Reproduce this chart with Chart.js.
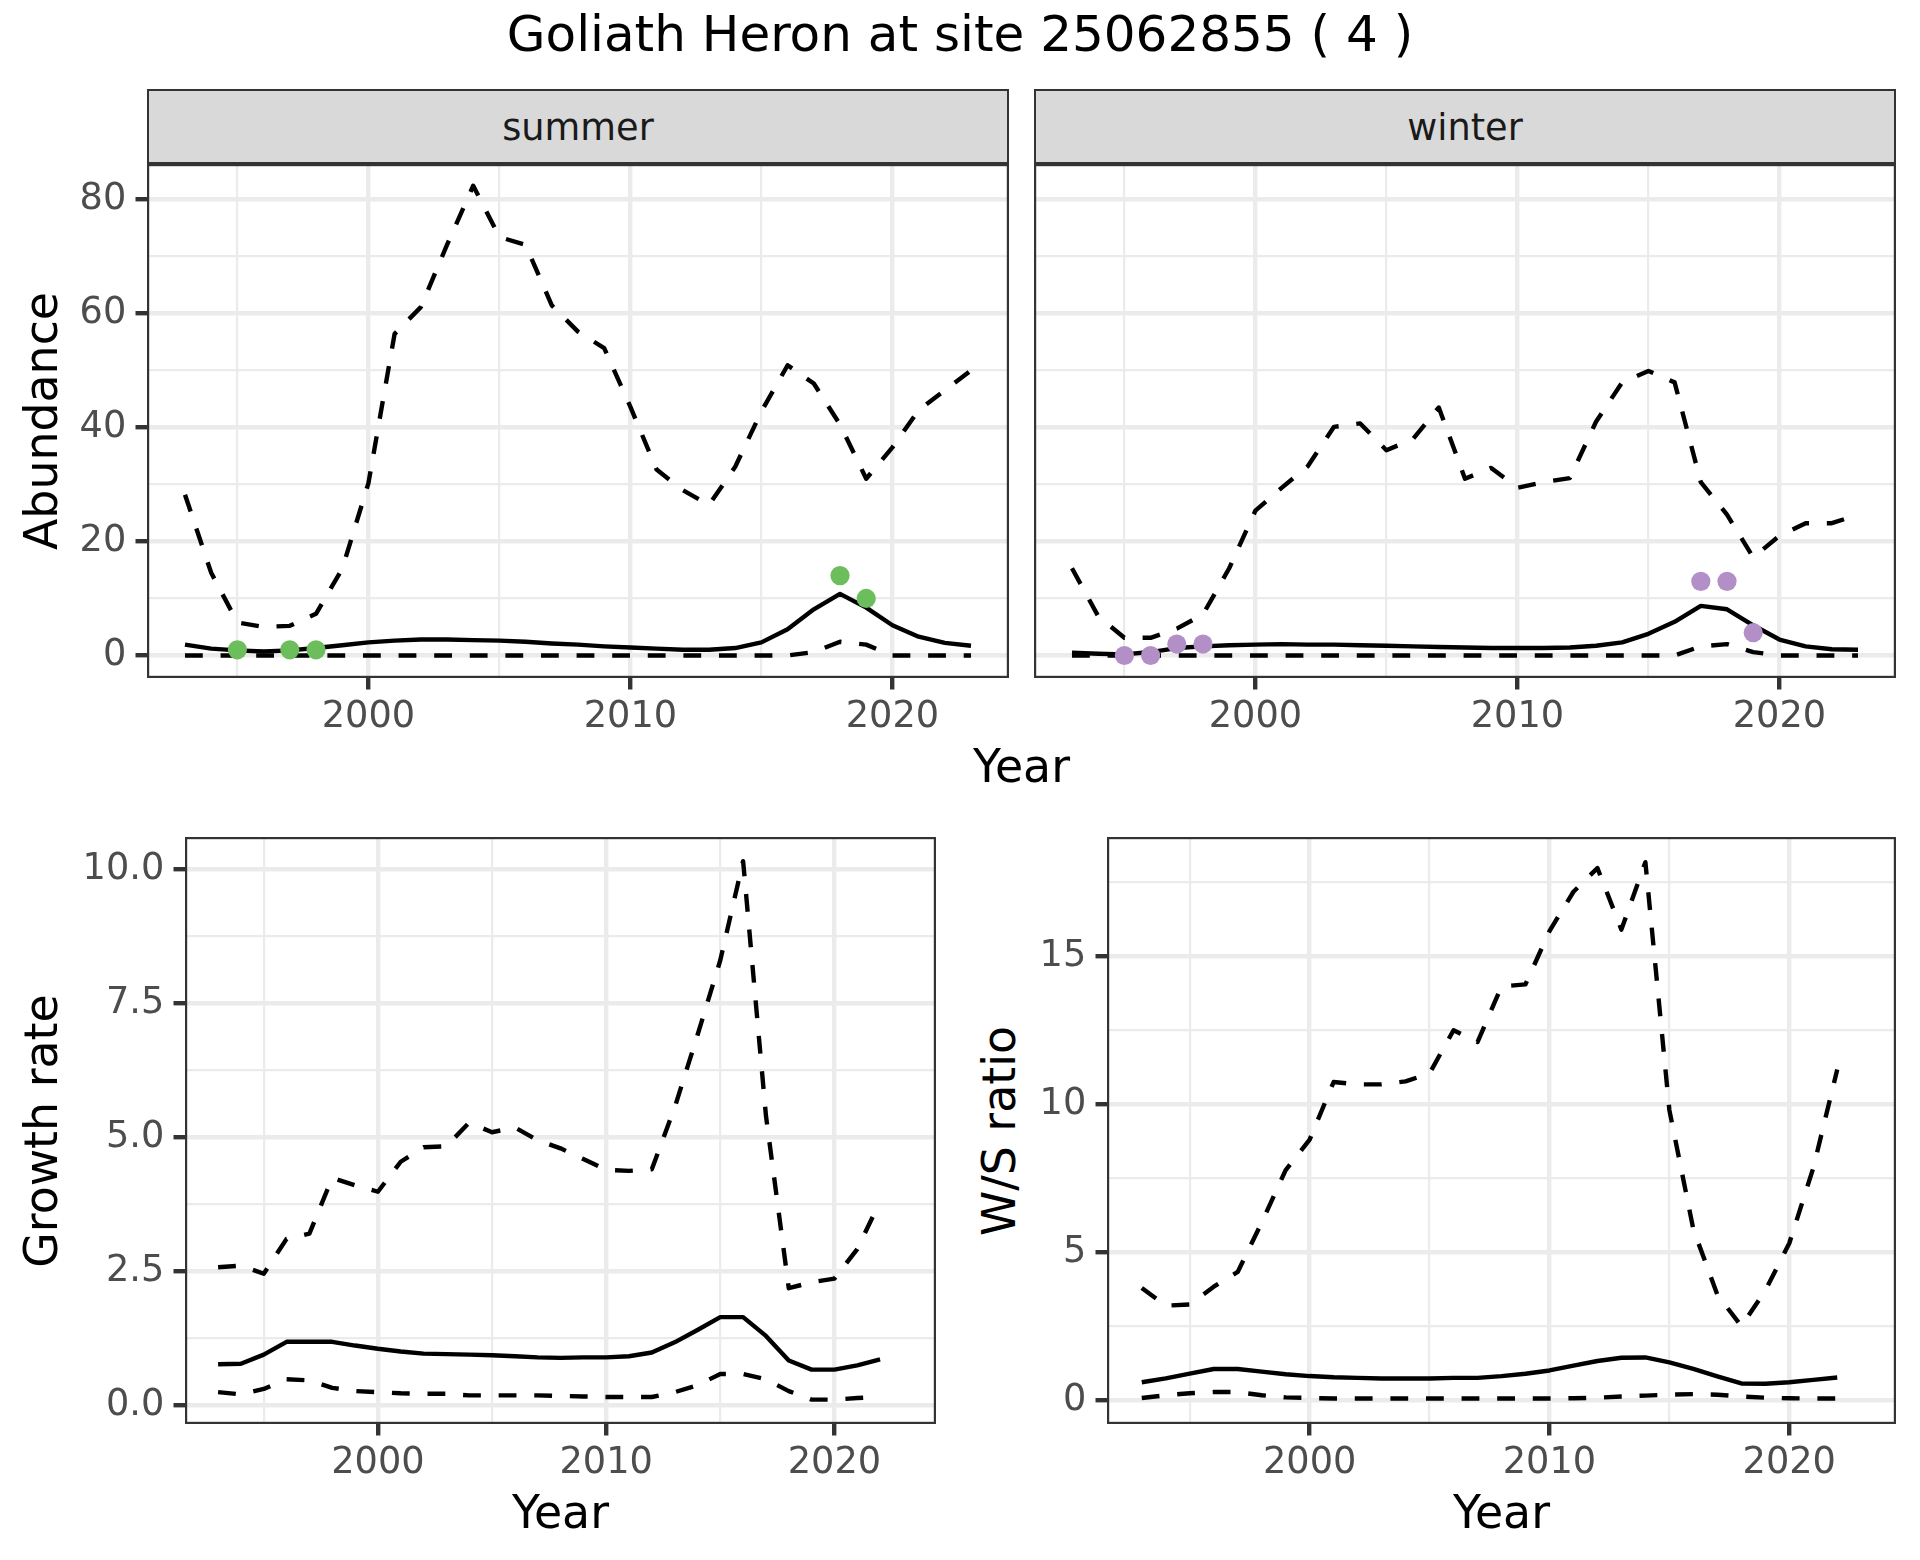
<!DOCTYPE html>
<html><head><meta charset="utf-8">
<script src="https://cdn.jsdelivr.net/npm/chart.js@4.4.1/dist/chart.umd.min.js"></script>
<style>
html,body{margin:0;padding:0;background:#fff;}
#root{position:relative;width:1920px;height:1560px;background:#fff;overflow:hidden;font-family:"DejaVu Sans",sans-serif;}
.cv{position:absolute;}
.lab{position:absolute;width:0;height:0;}
.lab span{position:absolute;left:0;white-space:nowrap;line-height:1;transform:translateX(-50%);font-family:"DejaVu Sans",sans-serif;}
.strip{position:absolute;background:#D9D9D9;border:2.2px solid #333333;box-sizing:border-box;}
</style></head><body><div id="root"></div>
<script>
// ---------------- data ----------------
const yearsAbund = [1993,1994,1995,1996,1997,1998,1999,2000,2001,2002,2003,2004,2005,2006,2007,2008,2009,2010,2011,2012,2013,2014,2015,2016,2017,2018,2019,2020,2021,2022,2023];
const yearsRatio = [1993,1994,1995,1996,1997,1998,1999,2000,2001,2002,2003,2004,2005,2006,2007,2008,2009,2010,2011,2012,2013,2014,2015,2016,2017,2018,2019,2020,2021,2022];

const summerUpper = [28.2,14.5,5.8,5.0,5.2,7.3,15.2,30.2,56.4,61.1,72.0,82.4,73.4,72.0,61.4,56.8,53.9,43.6,32.6,29.0,26.4,33.1,42.8,50.9,47.7,40.5,31.0,36.5,43.0,46.5,50.0];
const summerMean  = [1.9,1.2,0.9,0.7,0.9,1.3,1.8,2.3,2.6,2.8,2.8,2.7,2.6,2.4,2.1,1.9,1.6,1.4,1.2,1.0,1.0,1.3,2.3,4.6,8.1,10.8,8.4,5.3,3.3,2.2,1.7];
const summerLower = [0,0,0,0,0,0,0,0,0,0,0,0,0,0,0,0,0,0,0,0,0,0,0,0,0.6,2.4,1.9,0,0,0,0];
const summerObsYears = [1995,1997,1998,2018,2019];
const summerObs      = [1,1,1,14,10];

const winterUpper = [15.3,6.9,3.1,3.1,4.7,7.2,15.3,25.4,29.4,33.2,40.1,40.7,36.0,37.9,43.5,31.0,32.9,29.4,30.4,31.1,41.0,47.9,49.9,47.9,30.4,24.7,17.2,21.0,23.2,23.2,24.7];
const winterMean  = [0.5,0.3,0.2,0.6,1.3,1.6,1.8,1.9,2.0,1.9,1.9,1.8,1.7,1.6,1.5,1.4,1.3,1.3,1.3,1.4,1.7,2.3,3.8,5.9,8.7,8.1,5.3,2.8,1.6,1.1,1.0];
const winterLower = [0,0,0,0,0,0,0,0,0,0,0,0,0,0,0,0,0,0,0,0,0,0,0,0,1.6,2.0,0.6,0,0,0,0];
const winterObsYears = [1995,1996,1997,1998,2017,2018,2019];
const winterObs      = [0,0,2,2,13,13,4];

const growthUpper = [2.57,2.6,2.45,3.1,3.2,4.24,4.1,3.98,4.54,4.81,4.83,5.27,5.09,5.18,4.94,4.79,4.59,4.39,4.37,4.40,5.55,6.9,8.3,10.15,5.4,2.18,2.29,2.36,2.91,3.8];
const growthMean  = [0.76,0.77,0.94,1.18,1.18,1.18,1.11,1.05,1.0,0.96,0.95,0.94,0.93,0.91,0.89,0.88,0.89,0.89,0.91,0.98,1.17,1.4,1.64,1.64,1.29,0.83,0.66,0.66,0.74,0.85];
const growthLower = [0.24,0.2,0.3,0.48,0.46,0.32,0.26,0.24,0.22,0.21,0.21,0.18,0.18,0.18,0.18,0.17,0.16,0.15,0.15,0.15,0.24,0.37,0.58,0.58,0.48,0.26,0.1,0.1,0.13,0.15];

const ratioUpper = [3.79,3.19,3.23,3.83,4.33,6.0,7.77,8.8,10.75,10.67,10.67,10.77,11.04,12.5,12.1,13.98,14.05,15.85,17.18,17.98,15.9,18.18,9.8,5.77,3.56,2.5,3.7,5.3,7.84,11.17];
const ratioMean  = [0.6,0.73,0.89,1.05,1.05,0.96,0.87,0.81,0.77,0.75,0.73,0.73,0.73,0.75,0.75,0.81,0.89,1.0,1.16,1.32,1.43,1.44,1.27,1.05,0.8,0.56,0.55,0.6,0.68,0.76];
const ratioLower = [0.07,0.16,0.23,0.27,0.27,0.16,0.09,0.07,0.05,0.05,0.05,0.05,0.05,0.05,0.05,0.05,0.05,0.05,0.06,0.08,0.12,0.15,0.18,0.2,0.18,0.12,0.08,0.06,0.05,0.05];

const xTicks = [1995,2000,2005,2010,2015,2020];
const abundTicks = [0,10,20,30,40,50,60,70,80];
const growthTicks = [0,1.25,2.5,3.75,5,6.25,7.5,8.75,10];
const ratioTicks = [0,2.5,5,7.5,10,12.5,15,17.5];

const titleText = 'Goliath Heron at site 25062855 ( 4 )';

// ---------------- drawing ----------------
const root = document.getElementById('root');
Chart.defaults.font.family = '"DejaVu Sans", sans-serif';

const TICK_FONT = 36.7, LW = 4.4, GRID = '#EBEBEB', DARK = '#333333';

function addText(txt, x, baseline, size, color, rotate){
  const a = document.createElement('div');
  a.className = 'lab';
  a.style.left = x + 'px'; a.style.top = baseline + 'px';
  if (rotate) a.style.transform = 'rotate(-90deg)';
  const s = document.createElement('span');
  s.textContent = txt;
  s.style.fontSize = size + 'px';
  s.style.top = (-0.846*size) + 'px';
  s.style.color = color;
  a.appendChild(s);
  root.appendChild(a);
}
function addStrip(l, t, r, b, txt){
  const d = document.createElement('div');
  d.className = 'strip';
  d.style.left = l+'px'; d.style.top = t+'px';
  d.style.width = (r-l)+'px'; d.style.height = (b-t)+'px';
  root.appendChild(d);
  addText(txt, (l+r)/2, 141, TICK_FONT, '#1A1A1A');
}

const framePlugin = {
  id: 'frame',
  afterDraw(chart){
    const {ctx, chartArea: a} = chart;
    ctx.save();
    ctx.strokeStyle = DARK; ctx.lineWidth = 2.2;
    ctx.strokeRect(a.left+1.1, a.top+1.1, a.right-a.left-2.2, a.bottom-a.top-2.2);
    ctx.restore();
  }
};

function lineDs(xs, ys, dashed){
  return {
    data: xs.map((x,i)=>({x:x, y:ys[i]})),
    borderColor: '#000000', borderWidth: LW, borderDash: dashed ? [17.8,17.8] : [],
    borderCapStyle: 'butt', borderJoinStyle: 'round',
    pointRadius: 0, tension: 0, fill: false
  };
}
function pointDs(xs, ys, color){
  return {
    data: xs.map((x,i)=>({x:x, y:ys[i]})),
    showLine: false, pointRadius: 9.6, pointBackgroundColor: color,
    pointBorderWidth: 0, borderColor: color, backgroundColor: color
  };
}

function makeChart(o){
  const padTop = 45, padRight = 12;
  const W = o.r - o.l + o.wy + padRight;
  const H = o.b - o.t + padTop + o.hx;
  const cv = document.createElement('canvas');
  cv.width = W; cv.height = H; cv.className = 'cv';
  cv.style.left = (o.l - o.wy) + 'px'; cv.style.top = (o.t - padTop) + 'px';
  cv.style.width = W + 'px'; cv.style.height = H + 'px';
  root.appendChild(cv);
  const isMajX = v => v % 10 === 0;
  new Chart(cv, {
    type: 'line',
    data: { datasets: o.datasets },
    plugins: [framePlugin],
    options: {
      responsive: false, animation: false, devicePixelRatio: 1, events: [],
      layout: { autoPadding: false, padding: { top: padTop, right: padRight, left: 0, bottom: 0 } },
      plugins: { legend: {display:false}, tooltip: {enabled:false}, title: {display:false} },
      scales: {
        x: {
          type: 'linear', min: 1991.55, max: 2024.45,
          afterBuildTicks: s => { s.ticks = xTicks.map(v => ({value: v})); },
          afterFit: s => { s.height = o.hx; },
          border: { display: false },
          grid: {
            color: GRID,
            lineWidth: c => (c.tick && isMajX(c.tick.value)) ? LW : LW/2,
            tickLength: 11.5, tickWidth: LW,
            tickColor: c => (c.tick && isMajX(c.tick.value)) ? DARK : 'rgba(0,0,0,0)'
          },
          ticks: {
            autoSkip: false, maxRotation: 0, minRotation: 0, padding: 5.5,
            color: '#4D4D4D', font: { size: TICK_FONT, lineHeight: 1.2 },
            callback: v => isMajX(v) ? String(v) : ''
          }
        },
        y: {
          type: 'linear', min: o.yMin, max: o.yMax,
          afterBuildTicks: s => { s.ticks = o.yTicks.map(v => ({value: v})); },
          afterFit: s => { s.width = o.wy; },
          border: { display: false },
          grid: {
            color: GRID,
            lineWidth: c => (c.tick && o.yMajor(c.tick.value)) ? LW : LW/2,
            drawTicks: o.showY,
            tickLength: 11.5, tickWidth: LW,
            tickColor: c => (c.tick && o.yMajor(c.tick.value)) ? DARK : 'rgba(0,0,0,0)'
          },
          ticks: {
            display: o.showY, autoSkip: false, padding: 9.2,
            color: '#4D4D4D', font: { size: TICK_FONT, lineHeight: 1.2 },
            callback: v => o.yMajor(v) ? o.fmt(v) : ''
          }
        }
      }
    }
  });
}

// title
addText(titleText, 960, 51.5, 50, '#000000');

// top facets
addStrip(147, 89, 1009, 164, 'summer');
addStrip(1034, 89, 1896, 164, 'winter');

const abMajor = v => v % 20 === 0;
const abFmt = v => String(v);
makeChart({ l:147, t:164, r:1009, b:678, wy:147, hx:80, yMin:-3.95, yMax:86.2,
  yTicks: abundTicks, yMajor: abMajor, fmt: abFmt, showY: true,
  datasets: [
    pointDs(summerObsYears, summerObs, '#6CBD5B'),
    lineDs(yearsAbund, summerMean, false),
    lineDs(yearsAbund, summerUpper, true),
    lineDs(yearsAbund, summerLower, true)
  ]});
makeChart({ l:1034, t:164, r:1896, b:678, wy:0, hx:80, yMin:-3.95, yMax:86.2,
  yTicks: abundTicks, yMajor: abMajor, fmt: abFmt, showY: false,
  datasets: [
    pointDs(winterObsYears, winterObs, '#B38FC8'),
    lineDs(yearsAbund, winterMean, false),
    lineDs(yearsAbund, winterUpper, true),
    lineDs(yearsAbund, winterLower, true)
  ]});
addText('Year', 1021.5, 783, 45.8, '#000000');
addText('Abundance', 58, 421, 45.8, '#000000', true);

// growth rate
makeChart({ l:185, t:837, r:936, b:1424, wy:185, hx:80, yMin:-0.354, yMax:10.60,
  yTicks: growthTicks, yMajor: v => Math.abs(v/2.5 - Math.round(v/2.5)) < 1e-9, fmt: v => v.toFixed(1), showY: true,
  datasets: [
    lineDs(yearsRatio, growthMean, false),
    lineDs(yearsRatio, growthUpper, true),
    lineDs(yearsRatio, growthLower, true)
  ]});
addText('Year', 560.5, 1529, 45.8, '#000000');
addText('Growth rate', 58, 1130.5, 45.8, '#000000', true);

// W/S ratio
makeChart({ l:1107, t:837, r:1896, b:1424, wy:1107-1030, hx:80, yMin:-0.81, yMax:19.03,
  yTicks: ratioTicks, yMajor: v => v % 5 === 0, fmt: v => String(v), showY: true,
  datasets: [
    lineDs(yearsRatio, ratioMean, false),
    lineDs(yearsRatio, ratioUpper, true),
    lineDs(yearsRatio, ratioLower, true)
  ]});
addText('Year', 1501.5, 1529, 45.8, '#000000');
addText('W/S ratio', 1016, 1130.5, 45.8, '#000000', true);
</script>
</body></html>
